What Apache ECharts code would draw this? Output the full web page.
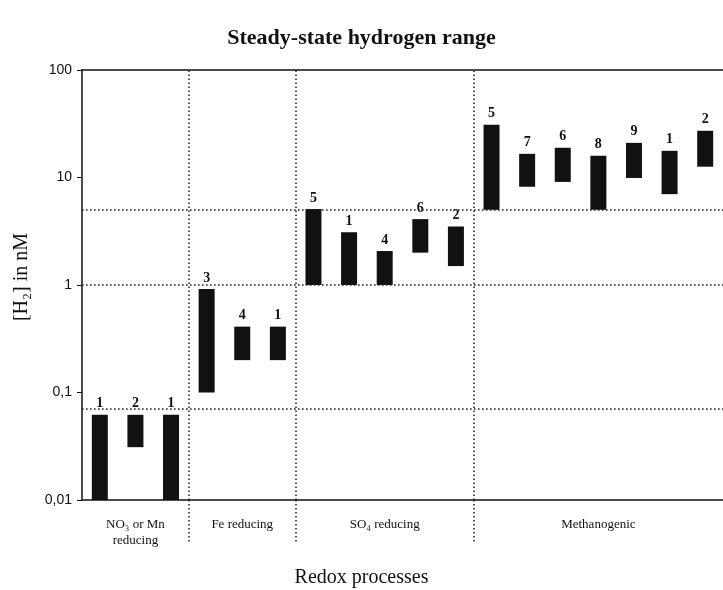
<!DOCTYPE html>
<html>
<head>
<meta charset="utf-8">
<script src="https://cdn.jsdelivr.net/npm/echarts@6/dist/echarts.min.js"></script>
<style>html,body{margin:0;padding:0;background:#fff}#c{width:723px;height:590px}</style>
</head>
<body>
<div id="c"></div>
<script>
// Bar labels (number of studies) per bar, in order left to right
const barCounts = [1, 2, 1, 3, 4, 1, 5, 1, 4, 6, 2, 5, 7, 6, 8, 9, 1, 2];
// Lower and upper H2 concentration (nM) per bar
const barLows  = [0.01, 0.031, 0.01, 0.1, 0.2, 0.2, 1, 1, 1, 2.0, 1.5, 5, 8.2, 9.1, 5, 9.9, 7.0, 12.6];
const barHighs = [0.062, 0.062, 0.062, 0.92, 0.41, 0.41, 5.1, 3.1, 2.07, 4.1, 3.5, 31, 16.6, 18.9, 15.9, 21, 17.7, 27.2];
// Redox process groups and how many bars each contains
const groupNames = ['NO\u2083 or Mn\nreducing', 'Fe reducing', 'SO\u2084 reducing', 'Methanogenic'];
const groupSizes = [3, 3, 5, 7];
// Horizontal boundary levels (nM)
const boundaryLevels = [0.068, 1, 5];
// Y tick labels
const yTickValues = [0.01, 0.1, 1, 10, 100];
const yTickLabels = ['0,01', '0,1', '1', '10', '100'];

const nBars = barCounts.length;
const data = barCounts.map((c, i) => [i + 0.5, barLows[i], barHighs[i], c]);

// group boundaries and centres
const groupBounds = [];
const groupCenters = [];
let acc = 0;
groupSizes.forEach((s, i) => {
  groupCenters.push(acc + s / 2);
  acc += s;
  if (i < groupSizes.length - 1) groupBounds.push(acc);
});

const serif = '"Liberation Serif", "DejaVu Serif", serif';
const sans = '"Liberation Sans", Arial, sans-serif';
const dotted = { type: [1.6, 2.4], color: '#222', width: 1.5 };

const chart = echarts.init(document.getElementById('c'), null, { renderer: 'canvas' });
chart.setOption({
  animation: false,
  backgroundColor: '#fff',
  title: [
    { text: 'Steady-state hydrogen range', left: 'center', top: 22,
      textStyle: { fontFamily: serif, fontWeight: 'bold', fontSize: 22, color: '#111' } },
    { text: 'Redox processes', left: 'center', top: 563,
      textStyle: { fontFamily: serif, fontWeight: 'normal', fontSize: 20, color: '#111' } }
  ],
  grid: { left: 82, top: 70, width: 645, height: 430, containLabel: false },
  xAxis: [{
    type: 'value', min: 0, max: nBars,
    axisLine: { show: true, lineStyle: { color: '#111', width: 1.5 } },
    splitLine: { show: false },
    axisTick: { show: true, customValues: groupBounds, length: 43, inside: false,
      lineStyle: dotted },
    axisLabel: {
      customValues: groupCenters, margin: 17,
      fontFamily: serif, fontSize: 13, color: '#111', lineHeight: 16,
      formatter: v => { const i = groupCenters.indexOf(v); return i >= 0 ? groupNames[i] : ''; }
    }
  }, {
    type: 'value', min: 0, max: nBars, position: 'top',
    axisLine: { show: true, lineStyle: { color: '#111', width: 1.5 } },
    axisTick: { show: false }, axisLabel: { show: false }, splitLine: { show: false }
  }],
  yAxis: {
    type: 'log', logBase: 10, min: 0.01, max: 100,
    name: '[H\u2082] in nM', nameLocation: 'middle', nameRotate: 90, nameGap: 50,
    nameTextStyle: { fontFamily: serif, fontSize: 20, color: '#111', padding: [0, 0, 0, 16] },
    axisLine: { show: true, lineStyle: { color: '#111', width: 1.5 } },
    axisTick: { show: true, length: 5, lineStyle: { color: '#111' } },
    splitLine: { show: false },
    minorTick: { show: false },
    axisLabel: {
      margin: 10, fontFamily: sans, fontSize: 14, color: '#111',
      formatter: v => { const i = yTickValues.findIndex(t => Math.abs(t - v) / t < 1e-6); return i >= 0 ? yTickLabels[i] : ''; }
    }
  },
  series: [{
    type: 'custom',
    data: data,
    clip: false,
    renderItem: function (params, api) {
      const x = api.value(0), lo = api.value(1), hi = api.value(2);
      const pTop = api.coord([x, hi]);
      const pBot = api.coord([x, lo]);
      const w = 16;
      return {
        type: 'group',
        children: [
          { type: 'rect', shape: { x: pTop[0] - w / 2, y: pTop[1], width: w, height: pBot[1] - pTop[1] },
            style: { fill: '#111' } },
          { type: 'text', x: pTop[0], y: pTop[1] - 4,
            style: { text: String(api.value(3)), align: 'center', verticalAlign: 'bottom',
              font: 'bold 14px ' + serif, fill: '#111' } }
        ]
      };
    },
    markLine: {
      silent: true, symbol: 'none', label: { show: false },
      lineStyle: dotted,
      data: [
        ...boundaryLevels.map(v => ({ yAxis: v })),
        ...groupBounds.map(v => ({ xAxis: v }))
      ]
    }
  }]
});
</script>
</body>
</html>
